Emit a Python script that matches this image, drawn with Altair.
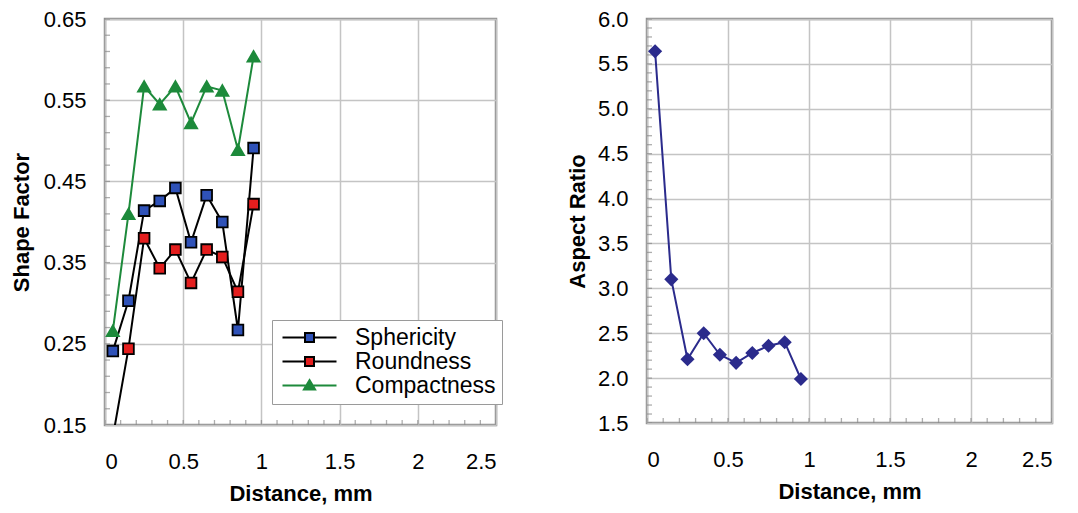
import altair as alt
import pandas as pd

# ---- data ----
distance = [0.05, 0.15, 0.25, 0.35, 0.45, 0.55, 0.65, 0.75, 0.85, 0.95]
sphericity = [0.241, 0.303, 0.414, 0.426, 0.442, 0.375, 0.433, 0.400, 0.267, 0.491]
roundness = [0.135, 0.244, 0.380, 0.343, 0.366, 0.325, 0.366, 0.357, 0.314, 0.422]
compactness = [0.266, 0.410, 0.567, 0.545, 0.567, 0.522, 0.567, 0.562, 0.489, 0.604]
aspect_ratio = [5.64, 3.10, 2.21, 2.50, 2.26, 2.17, 2.28, 2.36, 2.40, 1.99]

series_names = ["Sphericity", "Roundness", "Compactness"]
line_colors = ["#000000", "#000000", "#1d8a3b"]
fill_colors = ["#2f52b8", "#e41e1e", "#1d8a3b"]
marker_shapes = ["square", "square", "triangle-up"]
legend_paths = [
    "M-3,0H-0.5M0.5,0H3M-0.5,-0.5H0.5V0.5H-0.5Z",
    "M-3,0H-0.5M0.5,0H3M-0.5,-0.5H0.5V0.5H-0.5Z",
    "M-3,0H3M0,-0.6L0.62,0.45H-0.62Z",
]

x_ticks = [0, 0.5, 1, 1.5, 2, 2.5]
x_minor = [round(i * 0.1, 2) for i in range(26)]
left_y_ticks = [0.15, 0.25, 0.35, 0.45, 0.55, 0.65]
left_y_minor = [round(0.15 + i * 0.02, 3) for i in range(26)]
right_y_ticks = [1.5, 2.0, 2.5, 3.0, 3.5, 4.0, 4.5, 5.0, 5.5, 6.0]
right_y_minor = [round(1.5 + i * 0.1, 2) for i in range(46)]

ar_color = "#2b2b8c"
FONT = "Liberation Sans"
FRAME = "#8f8f8f"
TICK = "#8a8a8a"

# ---- build tables ----
rows = []
for name, vals, lc, fc, shp in zip(series_names, [sphericity, roundness, compactness],
                                   line_colors, fill_colors, marker_shapes):
    for d, v in zip(distance, vals):
        rows.append({"distance": d, "value": v, "series": name,
                     "lc": lc, "fc": fc, "shp": shp})
left_df = pd.DataFrame(rows)
right_df = pd.DataFrame({"distance": distance, "ratio": aspect_ratio})
xminor_df = pd.DataFrame({"distance": x_minor})
lyminor_df = pd.DataFrame({"value": left_y_minor})
ryminor_df = pd.DataFrame({"ratio": right_y_minor})

x_scale = alt.Scale(domain=[0, 2.5], nice=False, zero=False)
ly_scale = alt.Scale(domain=[0.15, 0.65], nice=False, zero=False)
ry_scale = alt.Scale(domain=[1.5, 6.0], nice=False, zero=False)

x_axis = alt.Axis(values=x_ticks, format="~g", grid=True, ticks=False,
                  labelPadding=26, titlePadding=11)
ly_axis = alt.Axis(values=left_y_ticks, format=".2f", grid=True, ticks=False,
                   labelPadding=19, titlePadding=10)
ry_axis = alt.Axis(values=right_y_ticks, format=".1f", grid=True, ticks=False,
                   labelPadding=19, titlePadding=8)


def x_enc():
    return alt.X("distance:Q", title="Distance, mm", scale=x_scale, axis=x_axis)


def minor_ticks(xdf, ydf, xmin, ymin, yfield, ytitle, yscale, yaxis):
    xt = alt.Chart(xdf).mark_tick(orient="vertical", size=10, thickness=1.3,
                                  color=TICK, clip=True).encode(
        x=x_enc(),
        y=alt.Y(datum=ymin, title=ytitle, scale=yscale, axis=yaxis),
    )
    yt = alt.Chart(ydf).mark_tick(orient="horizontal", size=10, thickness=1.3,
                                  color=TICK, clip=True).encode(
        x=alt.X(datum=xmin, title="Distance, mm", scale=x_scale, axis=x_axis),
        y=alt.Y(f"{yfield}:Q", title=ytitle, scale=yscale, axis=yaxis),
    )
    return xt, yt


y_left = alt.Y("value:Q", title="Shape Factor", scale=ly_scale, axis=ly_axis)

base = alt.Chart(left_df)

lines = base.mark_line(strokeWidth=2, clip=True).encode(
    x=x_enc(), y=y_left,
    detail="series:N",
    stroke=alt.Stroke("lc:N", scale=None),
)
points = base.mark_point(filled=True, strokeWidth=1.8, clip=True, opacity=1).encode(
    x=x_enc(), y=y_left,
    shape=alt.Shape("shp:N", scale=None),
    fill=alt.Fill("fc:N", scale=None),
    stroke=alt.Stroke("lc:N", scale=None),
    size=alt.condition("datum.shp == 'triangle-up'", alt.value(150), alt.value(115)),
)
legend_layer = base.transform_filter("false").mark_point(filled=True, opacity=1).encode(
    x=x_enc(), y=y_left,
    fill=alt.Fill("series:N", title=None,
                  scale=alt.Scale(domain=series_names, range=fill_colors),
                  legend=alt.Legend(orient="none", legendX=167, legendY=301,
                                    strokeColor="#9a9a9a", fillColor="white",
                                    padding=6, symbolSize=324, symbolStrokeWidth=2,
                                    symbolOffset=20, labelOffset=34,
                                    labelFontSize=23, labelFont=FONT, labelColor="black",
                                    rowPadding=0, labelLimit=300)),
    stroke=alt.Stroke("series:N", title=None,
                      scale=alt.Scale(domain=series_names, range=line_colors)),
    shape=alt.Shape("series:N", title=None,
                    scale=alt.Scale(domain=series_names, range=legend_paths)),
)
lxt, lyt = minor_ticks(xminor_df, lyminor_df, 0, 0.15, "value", "Shape Factor",
                       ly_scale, ly_axis)

left = alt.layer(lxt, lyt, lines, points, legend_layer).properties(width=391, height=406)

y_right = alt.Y("ratio:Q", title="Aspect Ratio", scale=ry_scale, axis=ry_axis)

right_base = alt.Chart(right_df)
rxt, ryt = minor_ticks(xminor_df, ryminor_df, 0, 1.5, "ratio", "Aspect Ratio",
                       ry_scale, ry_axis)
right = alt.layer(
    rxt, ryt,
    right_base.mark_line(color=ar_color, strokeWidth=2).encode(x=x_enc(), y=y_right),
    right_base.mark_point(shape="diamond", filled=True, size=200, color=ar_color,
                          opacity=1).encode(x=x_enc(), y=y_right),
).properties(width=405, height=404)

chart = alt.hconcat(left, right, spacing=67).properties(
    padding={"left": 0, "top": -2, "right": 5, "bottom": 0},
    background="white",
).configure_view(
    stroke=FRAME, strokeWidth=2.5, fill="white"
).configure_axis(
    labelFont=FONT, labelFontSize=22, labelColor="black",
    titleFont=FONT, titleFontSize=22, titleFontWeight="bold", titleColor="black",
    domain=False, gridColor="#c4c4c4", gridWidth=1.5,
)

chart.save("out.html", embed_options={"renderer": "svg", "actions": False})
